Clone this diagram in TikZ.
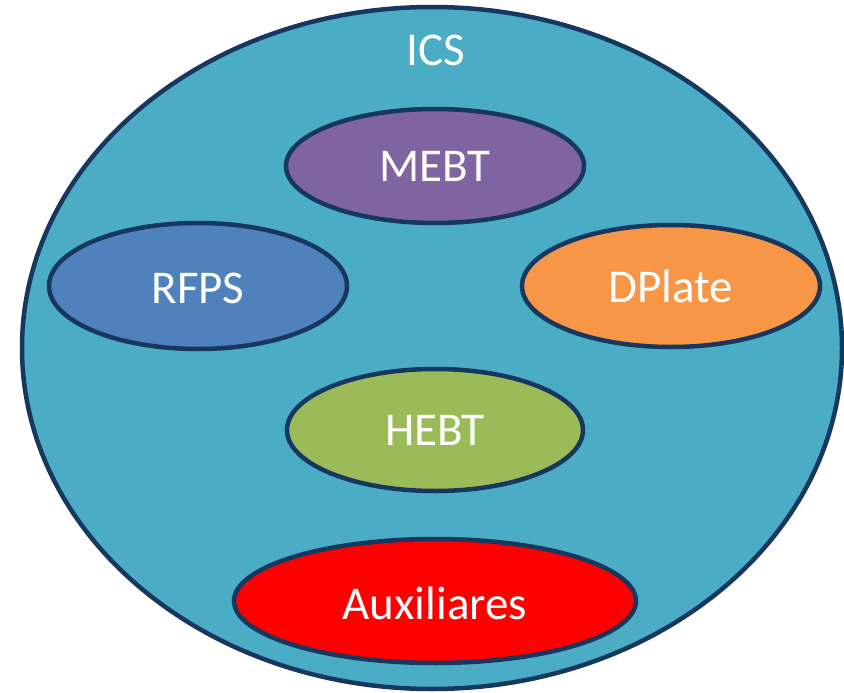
\documentclass[tikz,border=0pt]{standalone}
\usepackage{fontspec}
\setmainfont{Carlito}
\definecolor{icsfill}{HTML}{4BACC6}
\definecolor{rimcol}{HTML}{17375E}
\definecolor{mebtcol}{HTML}{8064A2}
\definecolor{rfpscol}{HTML}{4F81BD}
\definecolor{dplatecol}{HTML}{F79646}
\definecolor{hebtcol}{HTML}{9BBB59}
\definecolor{auxcol}{HTML}{FF0000}
\begin{document}
\begin{tikzpicture}[x=1pt,y=-1pt,
  blob/.style={draw=rimcol, line width=4.5pt},
  lbl/.style={text=white, font=\fontsize{47}{50}\selectfont, inner sep=0pt}]
\useasboundingbox (0,0) rectangle (844,693);
% outer system
\draw[blob, fill=icsfill] (432,348) ellipse [x radius=410, y radius=341];
\node[lbl] (ics) at (436,50) {ICS};
% subsystems
\draw[blob, fill=mebtcol] (435,166) ellipse [x radius=149, y radius=57];
\node[lbl] (mebt) at (435,166) {MEBT};
\draw[blob, fill=rfpscol] (198,286) ellipse [x radius=149, y radius=63];
\node[lbl] (rfps) at (198,288) {RFPS};
\draw[blob, fill=dplatecol] (671,286) ellipse [x radius=149, y radius=61];
\node[lbl] (dplate) at (671,286) {DPlate};
\draw[blob, fill=hebtcol] (435,430) ellipse [x radius=148, y radius=61];
\node[lbl] (hebt) at (435,430) {HEBT};
\draw[blob, fill=auxcol] (435,601) ellipse [x radius=201, y radius=62];
\node[lbl] (aux) at (435,603) {Auxiliares};
\end{tikzpicture}
\end{document}
